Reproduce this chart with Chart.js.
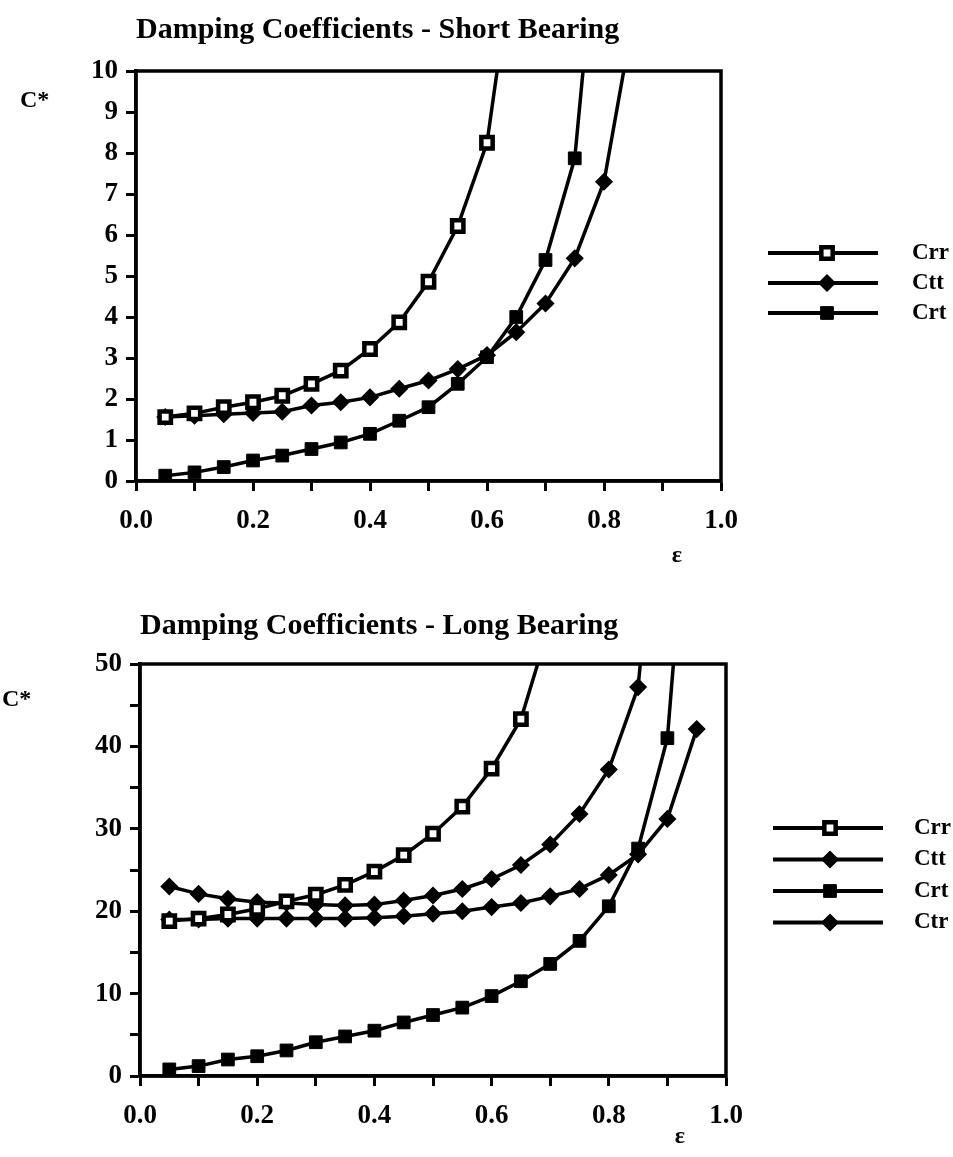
<!DOCTYPE html>
<html>
<head>
<meta charset="utf-8">
<script src="https://cdn.jsdelivr.net/npm/chart.js@4.4.1/dist/chart.umd.min.js"></script>
<style>
body{margin:0;background:#fff;width:953px;height:1157px;position:relative;overflow:hidden}
canvas{position:absolute;left:0}
#short{top:0}
#long{top:590px}
</style>
</head>
<body>
<canvas id="short" width="953" height="590"></canvas>
<canvas id="long" width="953" height="567"></canvas>
<script>
// eccentricity ratio values (x)
const eps=[0.05,0.10,0.15,0.20,0.25,0.30,0.35,0.40,0.45,0.50,0.55,0.60,0.65,0.70,0.75,0.80,0.85,0.90,0.95];

// short bearing
const shortCrr=[1.56,1.65,1.80,1.92,2.08,2.37,2.69,3.22,3.87,4.86,6.22,8.25,13.3];
const shortCtt=[1.56,1.59,1.63,1.66,1.69,1.84,1.92,2.04,2.25,2.45,2.73,3.07,3.63,4.33,5.43,7.30,11.3];
const shortCrt=[0.13,0.21,0.34,0.50,0.62,0.78,0.94,1.15,1.47,1.80,2.37,3.02,4.00,5.39,7.87,15.4];

// long bearing
const longCrr=[18.8,19.1,19.6,20.3,21.2,22.0,23.2,24.8,26.8,29.4,32.7,37.3,43.3,55];
const longCtt=[23.0,22.1,21.5,21.1,21.0,20.8,20.7,20.8,21.3,21.9,22.7,23.9,25.6,28.1,31.8,37.2,47.2,85];
const longCrt=[0.8,1.2,2.0,2.4,3.1,4.1,4.8,5.5,6.5,7.4,8.3,9.7,11.5,13.6,16.4,20.6,27.6,41.0,85];
const longCtr=[19.0,19.0,19.1,19.1,19.1,19.1,19.1,19.2,19.4,19.7,20.0,20.5,21.0,21.8,22.7,24.4,26.9,31.2,42.1];

const FONT="'Liberation Serif','Times New Roman',serif";
Chart.defaults.color='#000';
Chart.defaults.font.family=FONT;
Chart.defaults.font.weight='bold';

const markerStyle={
  Crr:{pointStyle:'rect',pointRadius:8,pointBackgroundColor:'#fff',pointBorderWidth:4.5},
  Ctt:{pointStyle:'rectRot',pointRadius:8,pointBackgroundColor:'#000',pointBorderWidth:1.5},
  Crt:{pointStyle:'rect',pointRadius:9,pointBackgroundColor:'#000',pointBorderWidth:1},
  Ctr:{pointStyle:'rectRot',pointRadius:8,pointBackgroundColor:'#000',pointBorderWidth:1.5}
};

const series=(name,vals)=>Object.assign({
  label:name,
  data:vals.map((v,i)=>({x:eps[i],y:v})),
  borderColor:'#000',
  borderWidth:3.5,
  pointBorderColor:'#000',
  tension:0
},markerStyle[name]);

const drawMark=(ctx,ds,x,y)=>{
  const r=ds.pointRadius;
  ctx.save();
  ctx.fillStyle=ds.pointBackgroundColor;
  ctx.strokeStyle='#000';
  ctx.lineWidth=ds.pointBorderWidth;
  ctx.beginPath();
  if(ds.pointStyle==='rect'){
    const s=r*Math.SQRT1_2;
    ctx.rect(x-s,y-s,2*s,2*s);
  }else{
    ctx.moveTo(x-r,y);ctx.lineTo(x,y-r);ctx.lineTo(x+r,y);ctx.lineTo(x,y+r);ctx.closePath();
  }
  ctx.fill();ctx.stroke();
  ctx.restore();
};

// frame, C*, epsilon and the line+marker key
const extras={
  id:'extras',
  afterDraw(chart,args,o){
    const {ctx,chartArea:a}=chart;
    ctx.save();
    ctx.strokeStyle='#000';
    ctx.lineWidth=3.5;
    ctx.strokeRect(a.left,a.top,a.right-a.left,a.bottom-a.top);
    ctx.fillStyle='#000';
    ctx.font='bold 24px '+FONT;
    ctx.textBaseline='middle';
    ctx.textAlign='left';
    ctx.fillText('C*',o.cx,o.cy);
    ctx.textAlign='center';
    ctx.fillText('ε',a.right+o.ex,o.ey);
    ctx.font='bold 23px '+FONT;
    ctx.textAlign='left';
    chart.data.datasets.forEach((ds,i)=>{
      const y=o.ky+i*o.kgap;
      ctx.lineWidth=4;
      ctx.beginPath();ctx.moveTo(o.kx1,y);ctx.lineTo(o.kx2,y);ctx.stroke();
      drawMark(ctx,ds,o.kxm,y);
      ctx.fillStyle='#000';
      ctx.fillText(ds.label,o.kxt,y);
    });
    ctx.restore();
  }
};

const xAxis=(h)=>({
  type:'linear',min:0,max:1,
  afterFit:(s)=>{s.height=h;},
  border:{display:true,color:'#000',width:3.5},
  grid:{drawOnChartArea:false,drawTicks:true,tickLength:10,tickWidth:3,tickColor:'#000',color:'#000'},
  ticks:{stepSize:0.1,autoSkip:false,maxRotation:0,padding:14,font:{size:27,weight:'bold'},
    callback:(v)=>{const k=Math.round(v*10);return k%2===0?(k/10).toFixed(1):'';}}
});

const yAxis=(w,max,step,every)=>({
  type:'linear',min:0,max:max,
  afterFit:(s)=>{s.width=w;},
  border:{display:true,color:'#000',width:3.5},
  grid:{drawOnChartArea:false,drawTicks:true,tickLength:10,tickWidth:3,tickColor:'#000',color:'#000'},
  ticks:{stepSize:step,autoSkip:false,padding:8,font:{size:27,weight:'bold'},
    callback:(v)=>(Math.round(v)%every===0?String(Math.round(v)):'')}
});

new Chart(document.getElementById('short'),{
  type:'line',
  data:{datasets:[series('Crr',shortCrr),series('Ctt',shortCtt),series('Crt',shortCrt)]},
  options:{
    responsive:false,animation:false,
    layout:{padding:{left:0,right:232,top:0,bottom:19}},
    scales:{x:xAxis(90),y:yAxis(136,10,1,1)},
    plugins:{
      legend:{display:false},
      tooltip:{enabled:false},
      title:{display:true,text:'Damping Coefficients - Short Bearing',align:'start',fullSize:false,
        font:{size:30,weight:'bold'},padding:{top:12,bottom:23}},
      extras:{cx:20,cy:101,ex:-44,ey:556,kx1:768,kx2:878,kxm:827,kxt:912,ky:253,kgap:30}
    }
  },
  plugins:[extras]
});

new Chart(document.getElementById('long'),{
  type:'line',
  data:{datasets:[series('Crr',longCrr),series('Ctt',longCtt),series('Crt',longCrt),series('Ctr',longCtr)]},
  options:{
    responsive:false,animation:false,
    layout:{padding:{left:0,right:227,top:0,bottom:11}},
    scales:{x:xAxis(70),y:yAxis(140,50,5,10)},
    plugins:{
      legend:{display:false},
      tooltip:{enabled:false},
      title:{display:true,text:'Damping Coefficients - Long Bearing',align:'start',fullSize:false,
        font:{size:30,weight:'bold'},padding:{top:18,bottom:20}},
      extras:{cx:2,cy:110,ex:-46,ey:547,kx1:773,kx2:883,kxm:830,kxt:914,ky:238,kgap:31.5}
    }
  },
  plugins:[extras]
});
</script>
</body>
</html>
